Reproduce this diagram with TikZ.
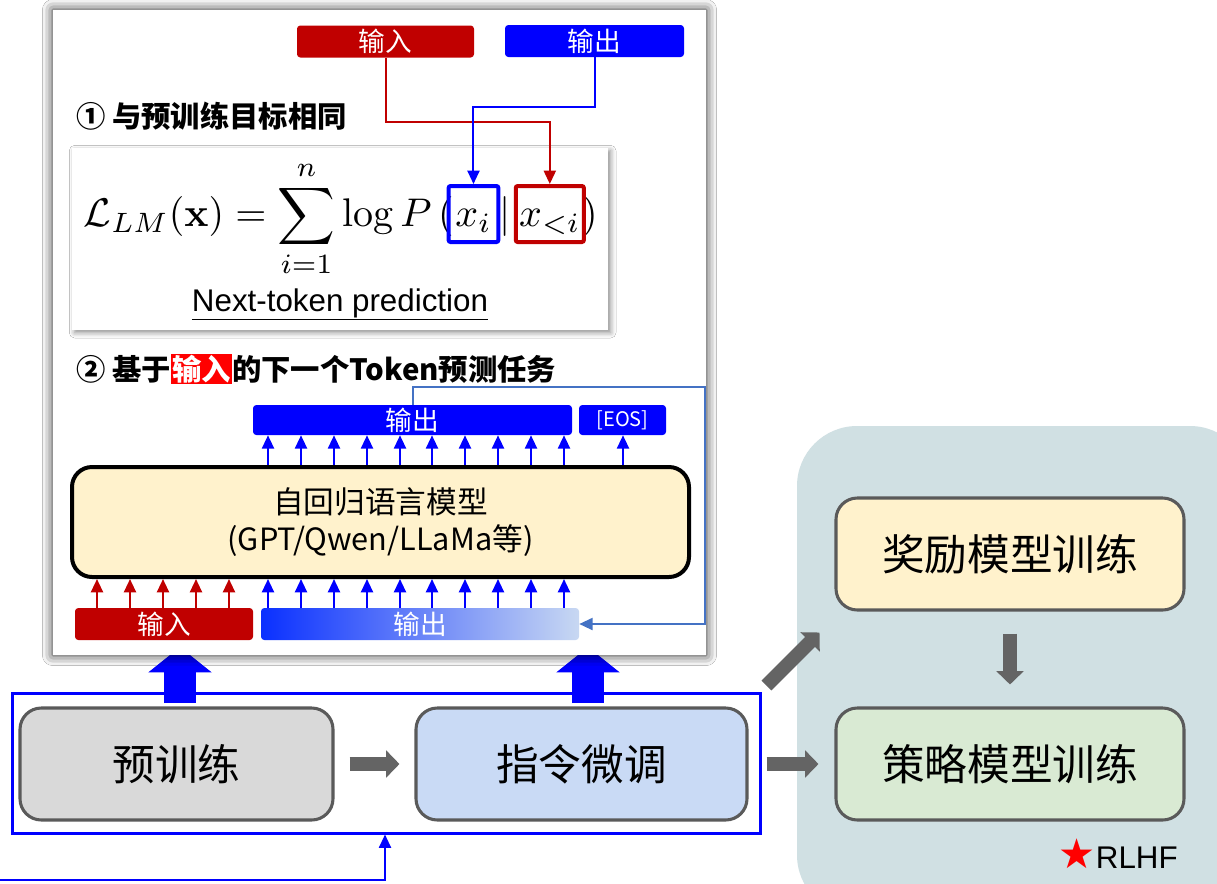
\documentclass[tikz,border=0pt]{standalone}
\usepackage[no-math]{fontspec}
\setmainfont{Liberation Sans}
\newfontfamily\cjk{Noto Sans CJK SC}
\newfontfamily\symfont{DejaVu Sans}
\usetikzlibrary{arrows.meta,shadows.blur,fit,calc}

\definecolor{dred}{HTML}{C00000}
\definecolor{hired}{HTML}{FF0000}
\definecolor{pblue}{HTML}{0000FF}
\definecolor{steel}{HTML}{4472C4}
\definecolor{cream}{HTML}{FFF2CC}
\definecolor{lgray}{HTML}{D9D9D9}
\definecolor{lblue}{HTML}{C9DAF5}
\definecolor{lgreen}{HTML}{D9EAD3}
\definecolor{panelc}{HTML}{D0E0E3}
\definecolor{dgray}{HTML}{646464}
\definecolor{fgray}{HTML}{5A5A5A}
\definecolor{gstart}{HTML}{0A30FF}
\definecolor{gend}{HTML}{C8D8F2}

\begin{document}
\begin{tikzpicture}[x=0.75pt,y=-0.75pt,
  tag/.style={rounded corners=2.5pt, inner sep=0pt, text=white,
    font=\cjk\fontsize{20}{20}\selectfont, minimum height=24pt},
  upblue/.style={draw=pblue, line width=1.6pt, -{Triangle[length=10pt 0 0,width=9pt 0 0]}},
  upred/.style={draw=dred, line width=1.6pt, -{Triangle[length=10pt 0 0,width=9pt 0 0]}},
  link/.style={line width=1.5pt, -{Triangle[length=10pt 0 0,width=9pt 0 0]}},
  stage/.style={draw=fgray, line width=2.3pt, rounded corners=16pt, inner sep=0pt,
    minimum height=84pt, font=\cjk\fontsize{32}{32}\selectfont},
  garrow/.style={draw=dgray, line width=10.5pt, -{Triangle[length=10pt 0 0,width=20pt 0 0]}},
  bigarrow/.style={draw=pblue, line width=24pt, -{Triangle[length=19pt 0 0,width=46.5pt 0 0]}},
  ttl/.style={anchor=west, inner sep=0pt, font=\cjk\bfseries\fontsize{22}{22}\selectfont},
]
\clip (0,0) rectangle (1217,883);
\fill[white] (0,0) rectangle (1217,883);

% RLHF background panel
\fill[panelc, rounded corners=45pt] (797,426) rectangle (1250,915);

% stages row
\node[draw=pblue, line width=2.25pt, inner sep=0pt, minimum width=561pt, minimum height=105pt] (frame) at (386,763) {};
\node[stage, fill=lgray, minimum width=234.75pt] (pre) at (176.5,764) {预训练};
\node[stage, fill=lblue, minimum width=248.25pt] (sft) at (581.5,764) {指令微调};
\node[stage, fill=cream, minimum width=261pt] (rm) at (1010,554) {奖励模型训练};
\node[stage, fill=lgreen, minimum width=261pt] (pol) at (1010,764) {策略模型训练};
\node[anchor=base east, inner sep=0pt, font=\fontsize{23.5}{24}\selectfont] (rlhf) at (1178,868)
  {{\symfont\fontsize{31}{31}\selectfont\textcolor{red}{★}}RLHF};

\draw[garrow, shorten <=11.25pt, shorten >=11.25pt] (pre) -- (sft);
\draw[garrow, shorten <=3.75pt, shorten >=12pt] (frame.east |- sft) -- (pol.west);
\draw[garrow, shorten <=16.5pt, shorten >=16.5pt] (rm) -- (pol);
\draw[garrow] ($(frame.north east)+(5,-6)$) -- ($(frame.north east)+(58,-59)$);

% input line from below
\coordinate (lin) at (-5,880);
\coordinate (lx) at (385,0);
\draw[link, draw=pblue] (lin) -| (frame.south -| lx);

% thick arrows into the upper panel
\coordinate (ba1) at (180,703);
\coordinate (ba2) at (588,703);
\draw[bigarrow] (ba1) -- (180,647);
\draw[bigarrow] (ba2) -- (588,647);

% upper panel
\node[fill=white, inner sep=0pt, minimum width=489.75pt, minimum height=483.75pt,
  blur shadow={shadow xshift=0pt, shadow yshift=0pt, shadow blur radius=8pt, shadow opacity=85}]
  (panel) at (379.5,332.5) {};

\node[tag, fill=dred, minimum width=132.75pt] (intag) at (385.5,41.5) {输入};
\node[tag, fill=pblue, minimum width=134.25pt] (outtag) at (594.5,41) {输出};

\node[ttl] (t1) at (76,116) {① 与预训练目标相同};

% loss formula
\node[fill=white, inner sep=0pt, minimum width=402pt, minimum height=136.5pt,
  blur shadow={shadow xshift=2pt, shadow yshift=-2pt, shadow blur radius=4pt, shadow opacity=45}]
  (fbox) at (340,239) {};
\begin{scope}[every node/.style={inner sep=0pt, anchor=base west, scale=3}]
\node (fA) at (83,226) {$\displaystyle\mathcal{L}_{LM}(\mathbf{x}) = \sum_{i=1}^{n}\log P\,($};
\node (fB) at (fA.base east) {$x_i$};
\node (fC) at (fB.base east) {$\,|\,$};
\node (fD) at (fC.base east) {$x_{<i}$};
\node (fE) at (fD.base east) {$)$};
\end{scope}
\coordinate (ytop) at (0,186);
\coordinate (ybot) at (0,242);
\node[fit=(fB.west|-ytop)(fB.east|-ybot), inner xsep=4.5pt, inner ysep=0pt, draw=pblue,
  line width=3pt, rounded corners=1.5pt] (bxi) {};
\node[fit=(fD.west|-ytop)(fD.east|-ybot), inner xsep=2pt, inner ysep=0pt, draw=dred,
  line width=3pt, rounded corners=1.5pt] (bxl) {};
\node[anchor=base, inner sep=0pt, font=\fontsize{23.5}{24}\selectfont] (ntp) at (340,311)
  {\underline{Next-token prediction}};

\draw[link, draw=dred] (intag.south) -- ++(0,64) -| (bxl.north);
\draw[link, draw=pblue] (outtag.south) -- ++(0,50) -| (bxi.north);

% next-token task
\node[ttl] (t2) at (76,369)
  {② 基于{\setlength{\fboxsep}{1pt}\colorbox{hired}{\textcolor{white}{输入}}}的下一个Token预测任务};

\node[tag, fill=pblue, minimum width=239.25pt, minimum height=22.5pt] (outbar) at (412.5,420) {输出};
\node[tag, fill=pblue, minimum width=65.25pt, minimum height=22.5pt,
  font=\cjk\fontsize{15}{15}\selectfont] (eos) at (622.5,420) {[EOS]};

\node[draw=black, line width=3pt, rounded corners=15pt, fill=cream, inner sep=0pt,
  minimum width=462.75pt, minimum height=82.5pt, align=center,
  font=\cjk\fontsize{23}{28}\selectfont] (model) at (380.5,522)
  {自回归语言模型\\(GPT/Qwen/LLaMa等)};

\node[tag, fill=dred, minimum width=133.5pt] (inbar) at (164,624) {输入};
\node[tag, left color=gstart, right color=gend, minimum width=238.5pt] (gbar) at (420,624) {输出};

\foreach \x in {268,301,334,367,400,432,465,498,531,564}{
  \path (\x,0) coordinate (t);
  \draw[upblue] (model.north -| t) -- (outbar.south -| t);
  \draw[upblue] (gbar.north -| t) -- (model.south -| t);
}
\path (623,0) coordinate (t);
\draw[upblue] (model.north -| t) -- (eos.south -| t);
\foreach \x in {97,130,163,196,229}{
  \path (\x,0) coordinate (t);
  \draw[upred] (inbar.north -| t) -- (model.south -| t);
}

% feedback of the generated output
\coordinate (fbk) at (705,387);
\draw[draw=steel, line width=1.5pt, -{Triangle[length=10pt 0 0,width=9pt 0 0]}]
  (outbar.north) |- (fbk) |- (gbar.east);
\end{tikzpicture}
\end{document}
